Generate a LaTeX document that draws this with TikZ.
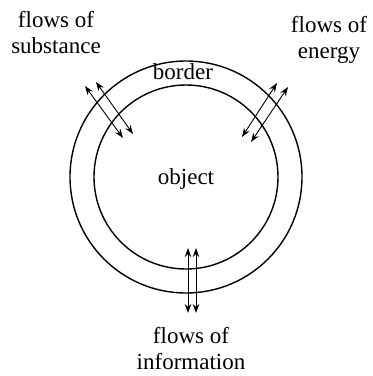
\documentclass[tikz,border=0pt]{standalone}
\usepackage{fontspec}
\setmainfont{Liberation Serif}
\usetikzlibrary{arrows.meta,positioning,calc}

\begin{document}
\begin{tikzpicture}[
    x=1pt, y=-1pt,
    ring/.style={draw, line width=1.4pt},
    flow/.style={{Stealth[length=9pt,width=6.5pt]}-{Stealth[length=9pt,width=6.5pt]}, line width=0.9pt},
    label/.style={align=center, inner sep=0pt, font=\fontsize{23}{26}\selectfont}
]
\useasboundingbox (0,0) rectangle (373,376);

\coordinate (c) at (186,177);
\draw[ring] (c) circle (116pt);
\draw[ring] (c) circle (92pt);

\node[label] (border) at (183,72) {border};
\node[label] (object) at (186,179) {object};

\node[label] (subst) at (56,33) {flows of\\substance};
\node[label] (energy) at (329,40) {flows of\\energy};
\node[label] (info) at (191,349) {flows of\\information};

% flow ends
\coordinate (s1) at (85,86);   \coordinate (s2) at (123,138);
\coordinate (s3) at (96,82);   \coordinate (s4) at (133,134);
\coordinate (e1) at (277,83);  \coordinate (e2) at (242,137);
\coordinate (e3) at (288,87);  \coordinate (e4) at (251,142);
\coordinate (i1) at (188,248); \coordinate (i2) at (188,313);
\coordinate (i3) at (196,248); \coordinate (i4) at (196,313);

\draw[flow] (s1) -- (s2);
\draw[flow] (s3) -- (s4);
\draw[flow] (e1) -- (e2);
\draw[flow] (e3) -- (e4);
\draw[flow] (i1) -- (i2);
\draw[flow] (i3) -- (i4);
\end{tikzpicture}
\end{document}
